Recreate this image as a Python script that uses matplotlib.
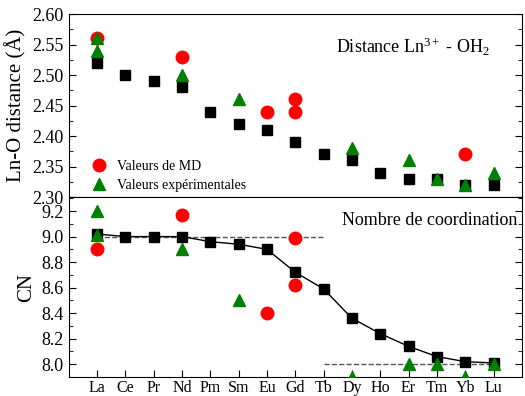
import matplotlib
matplotlib.use("Agg")
from matplotlib import pyplot as plt
from matplotlib.ticker import MultipleLocator
import numpy as np

plt.rcParams['font.family'] = ['Liberation Serif', 'DejaVu Serif']
plt.rcParams['mathtext.fontset'] = 'custom'
plt.rcParams['mathtext.rm'] = 'Liberation Serif'
plt.rcParams['mathtext.it'] = 'Liberation Serif:italic'

elements = ['La', 'Ce', 'Pr', 'Nd', 'Pm', 'Sm', 'Eu', 'Gd', 'Tb', 'Dy', 'Ho', 'Er', 'Tm', 'Yb', 'Lu']
z = np.arange(57, 72)

# distance Ln-O
dist_ref = [2.52, 2.50, 2.49, 2.48, 2.44, 2.42, 2.41, 2.39, 2.37, 2.36, 2.34, 2.33, 2.33, 2.32, 2.32]
dist_md_el = ['La', 'Nd', 'Eu', 'Gd', 'Gd', 'Yb']
dist_md = [2.56, 2.53, 2.44, 2.44, 2.46, 2.37]
dist_exp_el = ['La', 'La', 'Nd', 'Sm', 'Dy', 'Er', 'Tm', 'Yb', 'Lu']
dist_exp = [2.56, 2.54, 2.50, 2.46, 2.38, 2.36, 2.33, 2.32, 2.34]

# coordination number
cn_ref = [9.02, 9.0, 9.0, 9.0, 8.96, 8.94, 8.90, 8.72, 8.59, 8.36, 8.24, 8.14, 8.06, 8.02, 8.01]
cn_md_el = ['La', 'Nd', 'Eu', 'Gd', 'Gd']
cn_md = [8.90, 9.17, 8.40, 8.99, 8.62]
cn_exp_el = ['La', 'La', 'Nd', 'Sm', 'Dy', 'Er', 'Tm', 'Yb', 'Lu']
cn_exp = [9.20, 9.01, 8.90, 8.50, 7.90, 8.00, 8.00, 7.90, 8.00]

pos = dict(zip(elements, z))

fig = plt.figure(figsize=(5.25, 3.96), dpi=100)
ax1 = fig.add_axes([0.131, 0.5025, 0.863, 0.462])
ax2 = fig.add_axes([0.131, 0.048, 0.863, 0.4545])

ms_sq = 7.5
ms_c = 9
ms_t = 9

ax1.plot(z, dist_ref, 's', color='black', ms=ms_sq, zorder=3)
ax1.plot([pos[e] for e in dist_md_el], dist_md, 'o', color='red', ms=ms_c, zorder=4, label='Valeurs de MD')
ax1.plot([pos[e] for e in dist_exp_el], dist_exp, '^', color='green', ms=ms_t, zorder=5, label='Valeurs expérimentales')
ax1.set_ylim(2.30, 2.60)
ax1.set_xlim(56, 72)
ax1.yaxis.set_major_locator(MultipleLocator(0.05))
ax1.yaxis.set_minor_locator(MultipleLocator(0.025))
ax1.set_xticks([])
ax1.set_ylabel('Ln-O distance (Å)', fontsize=15)
ax1.tick_params(axis='y', which='both', direction='in', right=True, labelsize=13)
ax1.tick_params(axis='y', which='major', length=5)
ax1.tick_params(axis='y', which='minor', length=3)
ax1.text(0.93, 0.82, r'Distance Ln$^{3+}$ - OH$_2$', transform=ax1.transAxes,
         ha='right', va='center', fontsize=13)
ax1.legend(loc='lower left', frameon=False, fontsize=10, handletextpad=0.3,
           borderaxespad=0.1, labelspacing=0.4, bbox_to_anchor=(0.02, -0.01))

ax2.plot([pos['La'], pos['Tb']], [9.0, 9.0], '--', color='#555555', lw=1, zorder=1)
ax2.plot([pos['Tb'], pos['Lu']], [8.0, 8.0], '--', color='#555555', lw=1, zorder=1)
ax2.plot(z, cn_ref, 's-', color='black', ms=ms_sq, lw=1, zorder=3)
ax2.plot([pos[e] for e in cn_md_el], cn_md, 'o', color='red', ms=ms_c, zorder=4)
ax2.plot([pos[e] for e in cn_exp_el], cn_exp, '^', color='green', ms=ms_t, zorder=5)
ax2.set_ylim(7.9, 9.31)
ax2.set_xlim(56, 72)
ax2.yaxis.set_major_locator(MultipleLocator(0.2))
ax2.yaxis.set_minor_locator(MultipleLocator(0.1))
ax2.set_xticks(z)
ax2.set_xticklabels(elements)
ax2.set_ylabel('CN', fontsize=15)
ax2.tick_params(axis='both', which='both', direction='in', right=True, labelsize=13)
ax2.tick_params(axis='both', which='major', length=5)
ax2.tick_params(axis='both', which='minor', length=3)
ax2.tick_params(axis='x', labelsize=11.5, pad=2)
ax2.text(0.99, 0.87, 'Nombre de coordination', transform=ax2.transAxes,
         ha='right', va='center', fontsize=13)

fig.savefig('out.png', dpi=100)
